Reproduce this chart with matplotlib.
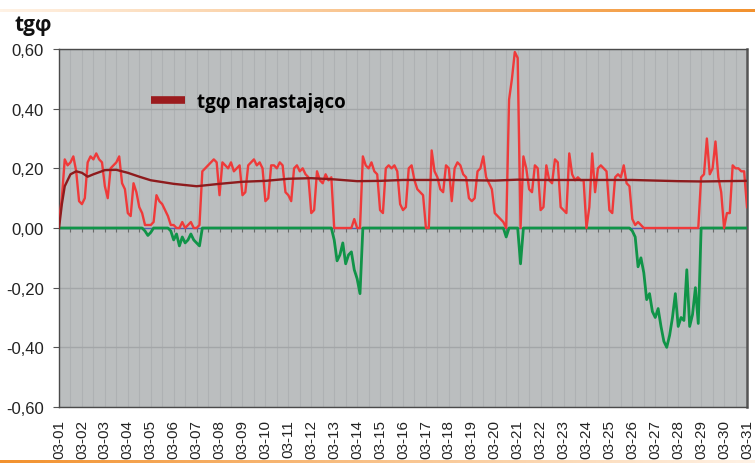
import numpy as np
import matplotlib.pyplot as plt
from matplotlib.lines import Line2D
from matplotlib.ticker import FuncFormatter

# tg(phi) sampled every 3 hours, 8 values per day, 03-01 00:00 .. 03-31 00:00
tg_pos = [
    0.02, 0.10, 0.23, 0.21, 0.22, 0.24, 0.19, 0.09,   # 03-01
    0.08, 0.10, 0.22, 0.24, 0.23, 0.25, 0.23, 0.22,   # 03-02
    0.14, 0.10, 0.20, 0.21, 0.22, 0.24, 0.15, 0.13,   # 03-03
    0.05, 0.04, 0.15, 0.12, 0.07, 0.05, 0.01, 0.01,   # 03-04
    0.01, 0.02, 0.11, 0.09, 0.08, 0.06, 0.04, 0.01,   # 03-05
    0.01, 0.00, 0.00, 0.02, 0.00, 0.01, 0.02, 0.00,   # 03-06
    0.00, 0.01, 0.19, 0.20, 0.21, 0.22, 0.23, 0.22,   # 03-07
    0.11, 0.22, 0.21, 0.20, 0.22, 0.19, 0.20, 0.21,   # 03-08
    0.11, 0.12, 0.21, 0.22, 0.23, 0.21, 0.22, 0.20,   # 03-09
    0.09, 0.10, 0.21, 0.21, 0.20, 0.22, 0.21, 0.12,   # 03-10
    0.11, 0.09, 0.20, 0.21, 0.19, 0.20, 0.18, 0.17,   # 03-11
    0.05, 0.06, 0.19, 0.16, 0.15, 0.18, 0.16, 0.17,   # 03-12
    0.00, 0.00, 0.00, 0.00, 0.00, 0.00, 0.00, 0.03,   # 03-13
    0.00, 0.00, 0.24, 0.21, 0.20, 0.22, 0.19, 0.18,   # 03-14
    0.06, 0.05, 0.20, 0.21, 0.20, 0.21, 0.19, 0.08,   # 03-15
    0.06, 0.07, 0.20, 0.21, 0.16, 0.13, 0.12, 0.11,   # 03-16
    0.00, 0.00, 0.26, 0.19, 0.17, 0.13, 0.12, 0.21,   # 03-17
    0.20, 0.09, 0.20, 0.22, 0.21, 0.18, 0.17, 0.10,   # 03-18
    0.09, 0.10, 0.19, 0.20, 0.24, 0.17, 0.15, 0.13,   # 03-19
    0.05, 0.04, 0.03, 0.02, 0.00, 0.43, 0.50, 0.59,   # 03-20
    0.57, 0.00, 0.24, 0.20, 0.13, 0.12, 0.21, 0.20,   # 03-21
    0.06, 0.07, 0.21, 0.16, 0.15, 0.23, 0.22, 0.07,   # 03-22
    0.06, 0.05, 0.25, 0.18, 0.16, 0.17, 0.16, 0.16,   # 03-23
    0.00, 0.07, 0.25, 0.12, 0.20, 0.21, 0.20, 0.19,   # 03-24
    0.06, 0.05, 0.17, 0.18, 0.17, 0.21, 0.15, 0.14,   # 03-25
    0.03, 0.01, 0.02, 0.01, 0.00, 0.00, 0.00, 0.00,   # 03-26
    0.00, 0.00, 0.00, 0.00, 0.00, 0.00, 0.00, 0.00,   # 03-27
    0.00, 0.00, 0.00, 0.00, 0.00, 0.00, 0.00, 0.00,   # 03-28
    0.17, 0.18, 0.30, 0.18, 0.20, 0.29, 0.17, 0.12,   # 03-29
    0.00, 0.05, 0.05, 0.21, 0.20, 0.20, 0.19, 0.19,   # 03-30
    0.07,
]

tg_neg = [
    0.00, 0.00, 0.00, 0.00, 0.00, 0.00, 0.00, 0.00,
    0.00, 0.00, 0.00, 0.00, 0.00, 0.00, 0.00, 0.00,
    0.00, 0.00, 0.00, 0.00, 0.00, 0.00, 0.00, 0.00,
    0.00, 0.00, 0.00, 0.00, 0.00, 0.00, -0.01, -0.025,
    -0.015, 0.00, 0.00, 0.00, 0.00, 0.00, 0.00, -0.01,
    -0.04, -0.02, -0.06, -0.03, -0.05, -0.04, -0.02, -0.04,
    -0.05, -0.06, 0.00, 0.00, 0.00, 0.00, 0.00, 0.00,
    0.00, 0.00, 0.00, 0.00, 0.00, 0.00, 0.00, 0.00,
    0.00, 0.00, 0.00, 0.00, 0.00, 0.00, 0.00, 0.00,
    0.00, 0.00, 0.00, 0.00, 0.00, 0.00, 0.00, 0.00,
    0.00, 0.00, 0.00, 0.00, 0.00, 0.00, 0.00, 0.00,
    0.00, 0.00, 0.00, 0.00, 0.00, 0.00, 0.00, 0.00,
    -0.04, -0.11, -0.09, -0.05, -0.12, -0.09, -0.08, -0.14,
    -0.17, -0.22, 0.00, 0.00, 0.00, 0.00, 0.00, 0.00,
    0.00, 0.00, 0.00, 0.00, 0.00, 0.00, 0.00, 0.00,
    0.00, 0.00, 0.00, 0.00, 0.00, 0.00, 0.00, 0.00,
    0.00, 0.00, 0.00, 0.00, 0.00, 0.00, 0.00, 0.00,
    0.00, 0.00, 0.00, 0.00, 0.00, 0.00, 0.00, 0.00,
    0.00, 0.00, 0.00, 0.00, 0.00, 0.00, 0.00, 0.00,
    0.00, 0.00, 0.00, 0.00, -0.03, 0.00, 0.00, 0.00,
    0.00, -0.12, 0.00, 0.00, 0.00, 0.00, 0.00, 0.00,
    0.00, 0.00, 0.00, 0.00, 0.00, 0.00, 0.00, 0.00,
    0.00, 0.00, 0.00, 0.00, 0.00, 0.00, 0.00, 0.00,
    0.00, 0.00, 0.00, 0.00, 0.00, 0.00, 0.00, 0.00,
    0.00, 0.00, 0.00, 0.00, 0.00, 0.00, 0.00, 0.00,
    -0.01, -0.03, -0.13, -0.10, -0.15, -0.24, -0.22, -0.28,
    -0.30, -0.27, -0.33, -0.38, -0.40, -0.36, -0.30, -0.22,
    -0.33, -0.30, -0.31, -0.14, -0.33, -0.29, -0.20, -0.32,
    0.00, 0.00, 0.00, 0.00, 0.00, 0.00, 0.00, 0.00,
    0.00, 0.00, 0.00, 0.00, 0.00, 0.00, 0.00, 0.00,
    0.00,
]

# cumulative tg(phi), read at irregular times (days from 03-01)
cum_days = [0, 0.125, 0.25, 0.5, 0.75, 1, 1.25, 1.5, 2, 2.5, 3, 3.5, 4, 5, 6, 7,
            8, 9, 10, 11, 12, 13, 14, 15, 16, 17, 18, 19, 20, 21, 22, 23,
            24, 25, 26, 27, 28, 29, 30]
cum_vals = [0.0, 0.08, 0.14, 0.18, 0.19, 0.185, 0.172, 0.18, 0.194, 0.195, 0.185, 0.172, 0.16, 0.148, 0.14, 0.148,
            0.155, 0.158, 0.165, 0.167, 0.163, 0.157, 0.158, 0.161, 0.161, 0.161, 0.16, 0.159, 0.162, 0.161, 0.161, 0.161,
            0.161, 0.161, 0.159, 0.157, 0.156, 0.157, 0.158]

day_labels = ["03-%02d" % d for d in range(1, 32)]
yticks = [-0.6, -0.4, -0.2, 0.0, 0.2, 0.4, 0.6]

t = np.arange(len(tg_pos)) * 3 / 24.0

fig = plt.figure(figsize=(7.55, 4.64), dpi=100)

# orange gradient strips at top and bottom
deco = fig.add_axes([0, 0, 1, 1], zorder=-5)
deco.axis('off')
deco.set_xlim(0, 1)
deco.set_ylim(0, 1)
s = np.linspace(0, 1, 300)
top = np.zeros((1, 300, 3))
top[0, :, 0] = 1.0 - 0.05 * s
top[0, :, 1] = 0.95 - 0.38 * s
top[0, :, 2] = 0.90 - 0.72 * s
bot = top[:, ::-1, :]
deco.imshow(top, extent=[0, 1, 1 - 13 / 464, 1 - 10 / 464], aspect='auto')
deco.imshow(bot, extent=[0, 1, 0, 3 / 464], aspect='auto')

ax = fig.add_axes([59 / 755, 1 - 408 / 464, 688 / 755, 358 / 464])
ax.set_facecolor('#BBBEBF')

ax.axhline(0, color='#5060B0', lw=1.0, zorder=2)
ax.plot(t, tg_neg, color='#109448', lw=2.0, zorder=3)
ax.plot(t, tg_pos, color='#EF3A3A', lw=1.7, zorder=4)
ax.plot(cum_days, cum_vals, color='#8E1B1D', lw=1.7, zorder=5)

# small ticks along the zero line
ax.vlines(np.arange(0.5, 30, 0.5), -0.014, 0, color='#6a6a6a', lw=0.8, zorder=1)

ax.set_xlim(0, 30)
ax.set_ylim(-0.6, 0.6)
ax.set_yticks(yticks)
ax.yaxis.set_major_formatter(FuncFormatter(
    lambda v, p: ("%.2f" % (0 if abs(v) < 1e-9 else v)).replace('.', ',')))
ax.set_xticks(range(31))
ax.set_xticklabels(day_labels, rotation=90)
ax.set_xticks(np.arange(0, 30.01, 0.5), minor=True)

ax.grid(True, axis='x', which='both', color='#AEB1B3', lw=0.8)
ax.grid(True, axis='y', which='major', color='#A3A6A8', lw=1.0)
ax.set_axisbelow(True)

ax.tick_params(axis='x', which='both', length=0, pad=9, labelsize=11,
               labelcolor='#222222', labelfontfamily='Liberation Sans')
ax.tick_params(axis='y', length=4, color='#555555', pad=7, labelsize=12,
               labelcolor='#222222', labelfontfamily='Liberation Sans')

for side in ['left', 'bottom', 'top']:
    ax.spines[side].set_color('#4a4a4a')
    ax.spines[side].set_linewidth(1.0)
ax.spines['right'].set_color('#555555')
ax.spines['right'].set_linewidth(1.8)

fig.text(14 / 755, 1 - 25 / 464, "tgφ", fontsize=15, fontweight='bold',
         family=['Open Sans', 'DejaVu Sans'], va='center', ha='left', color='#111111')

proxy = Line2D([], [], color='#9B1B1E', lw=5.5, solid_capstyle='butt')
fs = 13.5
fig.legend([proxy], ["tgφ narastająco"], loc='center left',
           bbox_to_anchor=(151 / 755, 1 - 103 / 464), frameon=False,
           borderpad=0, borderaxespad=0, handlelength=34 / (fs * 100 / 72),
           handletextpad=12 / (fs * 100 / 72),
           prop={'family': ['Open Sans', 'DejaVu Sans'], 'weight': 'bold', 'size': fs})

fig.savefig('out.png', dpi=100)
